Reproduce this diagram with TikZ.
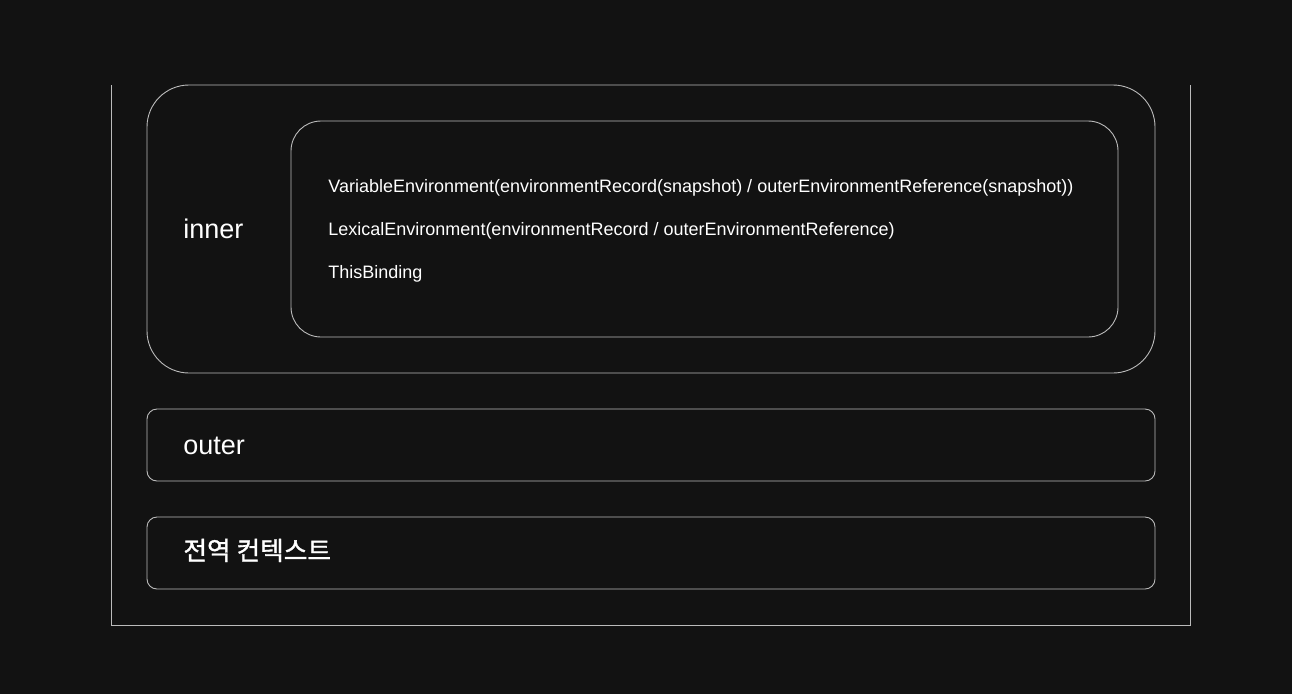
\documentclass[tikz,border=0pt]{standalone}
\usepackage{fontspec}
\setmainfont{Liberation Sans}
\newfontfamily\kofont[FakeBold=1.2]{Noto Sans CJK KR}
\definecolor{bgdark}{HTML}{121212}
\definecolor{linegray}{HTML}{BBBBBB}

\begin{document}
\begin{tikzpicture}[x=1pt, y=-1pt, line width=0.9pt,
    box/.style={draw=linegray},
    title/.style={text=white, font=\fontsize{27}{30}\selectfont, anchor=base west, inner sep=0pt},
    field/.style={text=white, font=\fontsize{18}{21}\selectfont, anchor=base west, inner sep=0pt}
    ]

    \fill[bgdark] (0,0) rectangle (1292,694);
    \useasboundingbox (0,0) rectangle (1292,694);

    % open frame of the stack
    \draw[linegray] (111,85) -- (111,625) -- (1190,625) -- (1190,85);

    % context boxes
    \draw[box, rounded corners=42pt] (147,85) rectangle (1155,373);
    \draw[box, rounded corners=30pt] (291,121) rectangle (1118,337);
    \draw[box, rounded corners=10pt] (147,409) rectangle (1155,481);
    \draw[box, rounded corners=10pt] (147,517) rectangle (1155,589);

    \node[title] (inner) at (183,238) {inner};
    \node[title] (outer) at (183,454) {outer};
    \node[title, font=\kofont\fontsize{25.7}{30}\selectfont] (global) at (183,560) {전역 컨텍스트};

    \node[field] (varenv) at (328,192) {VariableEnvironment(environmentRecord(snapshot) / outerEnvironmentReference(snapshot))};
    \node[field] (lexenv) at (328,235) {LexicalEnvironment(environmentRecord / outerEnvironmentReference)};
    \node[field] (thisbind) at (328,278) {ThisBinding};
    %
\end{tikzpicture}
\end{document}
